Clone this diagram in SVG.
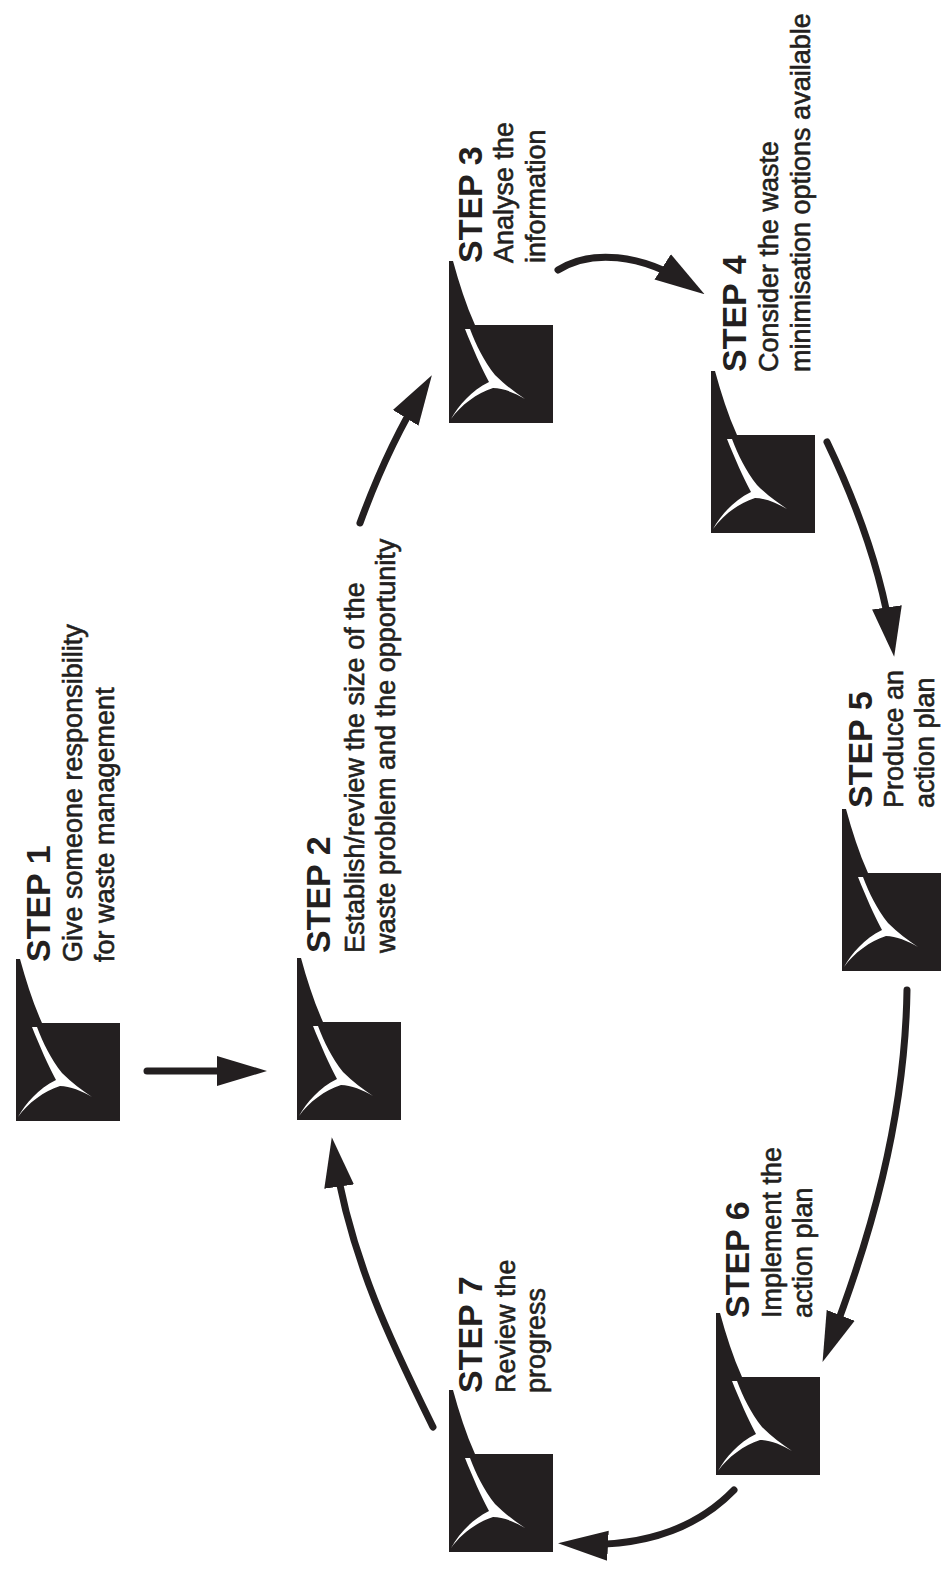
<svg xmlns="http://www.w3.org/2000/svg" xmlns:xlink="http://www.w3.org/1999/xlink" width="941" height="1573" viewBox="0 0 941 1573">
<style>
  .step { font-family: "Liberation Sans", Arial, sans-serif; font-weight: bold; font-size: 34px; fill: #231f20; }
  .body { font-family: "Liberation Sans", Arial, sans-serif; font-size: 27px; fill: #231f20; stroke: #231f20; stroke-width: 0.6px; }
  .shaft { fill: none; stroke: #231f20; stroke-width: 7; stroke-linecap: round; }
</style>
<defs>
  <marker id="head" markerUnits="userSpaceOnUse" viewBox="0 -16 50 32" markerWidth="50" markerHeight="32" refX="35" refY="0" orient="auto">
    <path d="M0,-15 L50,0 L0,15 Z" fill="#231f20"/>
  </marker>
  <g id="icon">
    <path d="M0,-64 L4,-64 C10,-42 17,-20 26,0 L0,0 Z" fill="#231f20"/>
    <rect x="0" y="0" width="104" height="98" fill="#231f20"/>
    <path fill="#ffffff" d="M16,4 L21,4 C27,20 35,36 46,50 C56,60 66,67 76,74 C66,68 54,63 44,63 C28,68 12,80 2,94 C10,80 22,66 40,57 C32,42 24,24 16,4 Z"/>
  </g>
</defs>
<rect width="941" height="1573" fill="#ffffff"/>

<g id="connectors">
  <path class="shaft" d="M147,1071 L252,1071" marker-end="url(#head)"/>
  <path class="shaft" d="M360,523 C372,490 392,440 424,388" marker-end="url(#head)"/>
  <path class="shaft" d="M558,270 C590,250 640,252 692,286" marker-end="url(#head)"/>
  <path class="shaft" d="M827,442 C850,490 880,560 892,642" marker-end="url(#head)"/>
  <path class="shaft" d="M907,990 C905,1120 870,1240 828,1348" marker-end="url(#head)"/>
  <path class="shaft" d="M734,1490 C700,1525 650,1548 573,1544" marker-end="url(#head)"/>
  <path class="shaft" d="M433,1427 C395,1350 350,1260 334,1152" marker-end="url(#head)"/>
</g>

<g id="step1">
  <use xlink:href="#icon" href="#icon" x="16" y="1023"/>
  <g transform="translate(50,962) rotate(-90)">
    <text class="step" x="0" y="0">STEP 1</text>
    <text class="body" x="0" y="32">Give someone responsibility</text>
    <text class="body" x="0" y="64">for waste management</text>
  </g>
</g>

<g id="step2">
  <use xlink:href="#icon" href="#icon" x="297" y="1022"/>
  <g transform="translate(330,953) rotate(-90)">
    <text class="step" x="0" y="0">STEP 2</text>
    <text class="body" x="0" y="34">Establish/review the size of the</text>
    <text class="body" x="0" y="65">waste problem and the opportunity</text>
  </g>
</g>

<g id="step3">
  <use xlink:href="#icon" href="#icon" x="449" y="325"/>
  <g transform="translate(482,263) rotate(-90)">
    <text class="step" x="0" y="0">STEP 3</text>
    <text class="body" x="0" y="31">Analyse the</text>
    <text class="body" x="0" y="63">information</text>
  </g>
</g>

<g id="step4">
  <use xlink:href="#icon" href="#icon" x="711" y="435"/>
  <g transform="translate(746,372) rotate(-90)">
    <text class="step" x="0" y="0">STEP 4</text>
    <text class="body" x="0" y="32">Consider the waste</text>
    <text class="body" x="0" y="64">minimisation options available</text>
  </g>
</g>

<g id="step5">
  <use xlink:href="#icon" href="#icon" x="842" y="873"/>
  <g transform="translate(872,808) rotate(-90)">
    <text class="step" x="0" y="0">STEP 5</text>
    <text class="body" x="0" y="31">Produce an</text>
    <text class="body" x="0" y="62">action plan</text>
  </g>
</g>

<g id="step6">
  <use xlink:href="#icon" href="#icon" x="716" y="1377"/>
  <g transform="translate(749,1318) rotate(-90)">
    <text class="step" x="0" y="0">STEP 6</text>
    <text class="body" x="0" y="32">Implement the</text>
    <text class="body" x="0" y="63">action plan</text>
  </g>
</g>

<g id="step7">
  <use xlink:href="#icon" href="#icon" x="449" y="1454"/>
  <g transform="translate(482,1393) rotate(-90)">
    <text class="step" x="0" y="0">STEP 7</text>
    <text class="body" x="0" y="33">Review the</text>
    <text class="body" x="0" y="63">progress</text>
  </g>
</g>
</svg>
